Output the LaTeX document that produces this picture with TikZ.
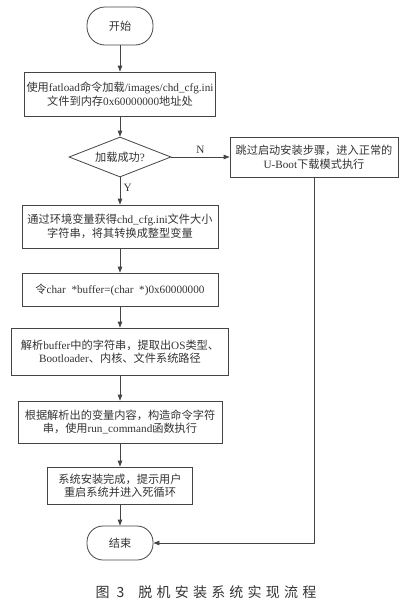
\documentclass[tikz,border=0pt]{standalone}
\usepackage{fontspec}
\setmainfont{Liberation Serif}
\newfontfamily\zh{Noto Sans CJK SC}
\newfontfamily\capfont[LetterSpace=30]{Noto Sans CJK SC}
\usetikzlibrary{arrows.meta,shapes.geometric}
\definecolor{FlowInk}{HTML}{333333}
\definecolor{FlowLine}{HTML}{444444}
\tikzset{
  every node/.style={font=\fontsize{11.2}{13.5}\selectfont, text=FlowInk},
  proc/.style={draw=FlowLine, line width=0.8pt, align=center, inner sep=0pt},
  term/.style={draw=FlowLine, line width=0.8pt, rounded corners=18pt, minimum width=66pt, inner sep=0pt},
  decide/.style={draw=FlowLine, line width=0.8pt, diamond, aspect=2.5, inner sep=0pt, minimum width=102pt, minimum height=40pt},
  flow/.style={-{Triangle[length=6pt,width=4.5pt]}, draw=FlowLine, line width=0.8pt},
}

\begin{document}
\begin{tikzpicture}[x=1pt,y=-1pt]
  \useasboundingbox (0,0) rectangle (408,614);

  % start and first step
  \node[term, minimum height=38pt] (start) at (120,26) {\zh 开始};
  \node[proc, minimum width=191pt, minimum height=44pt] (load) at (120,94)
    {{\zh 使用}fatload{\zh 命令加载}/images/chd\_cfg.ini\\{\zh 文件到内存}0x60000000{\zh 地址处}};

  % decision and the failure branch
  \node[decide] (check) at (120,157) {{\zh 加载成功}?};
  \node[proc, minimum width=168pt, minimum height=40pt] (skip) at (314,157)
    {{\zh 跳过启动安装步骤，进入正常的}\\U-Boot{\zh 下载模式执行}};

  % main path
  \node[proc, minimum width=196pt, minimum height=43pt] (size) at (120,226.5)
    {{\zh 通过环境变量获得}chd\_cfg.ini{\zh 文件大小}\\{\zh 字符串，将其转换成整型变量}};
  \node[proc, minimum width=196pt, minimum height=33pt] (ptr) at (120,289.5)
    {{\zh 令}char \ *buffer=(char \ *)0x60000000};
  \node[proc, minimum width=217pt, minimum height=47pt] (parse) at (120,351.5)
    {{\zh 解析}buffer{\zh 中的字符串，提取出}OS{\zh 类型、}\\Bootloader{\zh 、内核、文件系统路径}};
  \node[proc, minimum width=204pt, minimum height=42pt] (run) at (120,422)
    {{\zh 根据解析出的变量内容，构造命令字符}\\{\zh 串，使用}run\_command{\zh 函数执行}};
  \node[proc, minimum width=145pt, minimum height=37pt] (done) at (120,485.5)
    {{\zh 系统安装完成，提示用户}\\{\zh 重启系统并进入死循环}};
  \node[term, minimum height=34pt, rounded corners=16pt] (stop) at (120,543) {\zh 结束};

  % connectors
  \draw[flow] (start) -- (load);
  \draw[flow] (load) -- (check);
  \draw[flow] (check) -- node[above, pos=0.5] {N} (skip);
  \draw[flow] (check) -- node[right, pos=0.4] {Y} (size);
  \draw[flow] (size) -- (ptr);
  \draw[flow] (ptr) -- (parse);
  \draw[flow] (parse) -- (run);
  \draw[flow] (run) -- (done);
  \draw[flow] (done) -- (stop);
  \draw[flow] (skip.south) |- (stop.east);

  % caption
  \node[font=\fontsize{14}{16}\selectfont] (caption) at (206,592) {\capfont 图\enspace 3\quad 脱机安装系统实现流程};
\end{tikzpicture}
\end{document}
